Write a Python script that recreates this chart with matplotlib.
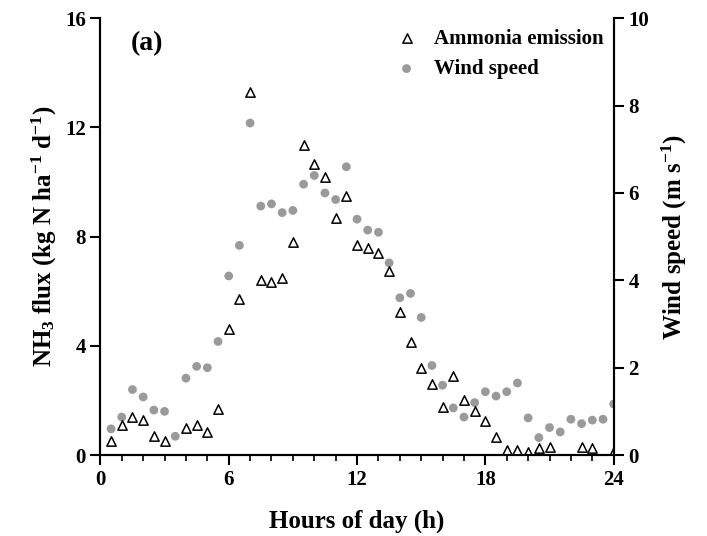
import numpy as np
import matplotlib.pyplot as plt

hours_nh3 = [0.5, 1, 1.5, 2, 2.5, 3, 4, 4.5, 5, 5.5, 6, 6.5, 7, 7.5, 8, 8.5, 9, 9.5,
             10, 10.5, 11, 11.5, 12, 12.5, 13, 13.5, 14, 14.5, 15, 15.5, 16, 16.5,
             17, 17.5, 18, 18.5, 19, 19.5, 20, 20.5, 21, 22.5, 23, 24]
nh3_flux = [0.5, 1.1, 1.4, 1.3, 0.7, 0.5, 1.0, 1.1, 0.85, 1.7, 4.6, 5.7, 13.3, 6.4,
            6.35, 6.5, 7.8, 11.35, 10.65, 10.2, 8.7, 9.5, 7.7, 7.6, 7.4, 6.75, 5.25,
            4.15, 3.2, 2.6, 1.75, 2.9, 2.0, 1.6, 1.25, 0.65, 0.2, 0.2, 0.1, 0.25,
            0.3, 0.3, 0.25, 0.15]
hours_wind = np.arange(0.5, 24.01, 0.5)
wind = [0.6, 0.87, 1.5, 1.33, 1.03, 1.0, 0.43, 1.76, 2.03, 2.0, 2.6, 4.1, 4.8, 7.6,
        5.7, 5.75, 5.55, 5.6, 6.2, 6.4, 6.0, 5.85, 6.6, 5.4, 5.15, 5.1, 4.4, 3.6,
        3.7, 3.15, 2.05, 1.6, 1.08, 0.87, 1.2, 1.45, 1.35, 1.45, 1.65, 0.85, 0.4,
        0.63, 0.53, 0.82, 0.72, 0.8, 0.82, 1.17]

plt.rcParams['font.family'] = 'Liberation Serif'
plt.rcParams['font.weight'] = 'bold'
plt.rcParams['mathtext.fontset'] = 'custom'
plt.rcParams['mathtext.rm'] = 'Liberation Serif:bold'
plt.rcParams['mathtext.bf'] = 'Liberation Serif:bold'
plt.rcParams['mathtext.default'] = 'bf'

fig, ax = plt.subplots(figsize=(7.07, 5.36), dpi=100)
ax2 = ax.twinx()
ax.set_zorder(ax2.get_zorder() + 1)
ax.patch.set_visible(False)

ax2.scatter(hours_wind, wind, s=40, color='#9a9a9a', edgecolors='none', label='Wind speed')
ax.scatter(hours_nh3, nh3_flux, s=45, marker='^', facecolors='white', edgecolors='black',
           linewidths=1.1, label='Ammonia emission')

ax.set_xlim(0, 24)
ax.set_ylim(0, 16)
ax2.set_ylim(0, 10)
ax.set_xticks([0, 6, 12, 18, 24])
ax.set_xticks(np.arange(0, 25, 1), minor=True)
ax.set_yticks([0, 4, 8, 12, 16])
ax2.set_yticks([0, 2, 4, 6, 8, 10])

for a in (ax, ax2):
    a.tick_params(labelsize=15, width=1.5, length=7)
    a.tick_params(which='minor', width=1.2, length=4)
    for s in a.spines.values():
        s.set_linewidth(1.5)
    a.spines['top'].set_visible(False)

ax.set_xlabel('Hours of day (h)', fontsize=18, fontweight='bold', labelpad=14)
ax.set_ylabel(r'NH$_3$ flux (kg N ha$^{-1}$ d$^{-1}$)', fontsize=18, fontweight='bold')
ax2.set_ylabel(r'Wind speed (m s$^{-1}$)', fontsize=18, fontweight='bold', labelpad=8)
ax.text(0.06, 0.97, '(a)', transform=ax.transAxes, fontsize=20, fontweight='bold', va='top')

h1, l1 = ax.get_legend_handles_labels()
h2, l2 = ax2.get_legend_handles_labels()
ax.legend(h1 + h2, l1 + l2, loc='upper right', frameon=False, fontsize=15,
          handletextpad=0.3, borderaxespad=0.1)

plt.subplots_adjust(left=0.142, right=0.868, bottom=0.151, top=0.966)
plt.savefig('out.png')
